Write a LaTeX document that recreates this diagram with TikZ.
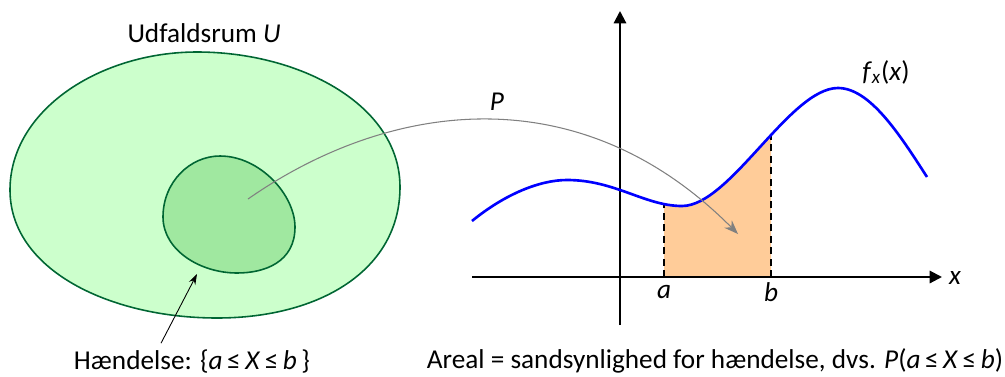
\documentclass[tikz,border=0pt]{standalone}
\usepackage{fontspec}
\setmainfont{Carlito}
\usepackage{tikz}
\usetikzlibrary{arrows.meta}
\tikzset{every picture/.append style={font=\fontsize{15.5}{18}\selectfont}}
\definecolor{blobouter}{HTML}{CCFFCC}
\definecolor{blobinner}{HTML}{A0E8A0}
\definecolor{blobline}{HTML}{006633}
\definecolor{areafill}{HTML}{FFCC99}
\newcommand{\fxcurve}{(472,221) .. controls (505,194) and (540,180) .. (567,180)
  .. controls (615,180) and (645,206) .. (682,206)
  .. controls (730,206) and (790,88) .. (838,88)
  .. controls (870,88) and (900,135) .. (927,177)}

\begin{document}
\begin{tikzpicture}[x=0.02cm,y=-0.02cm,
    axis/.style={line width=1.2pt,-{Triangle[length=7pt,width=7pt]}},
    lbl/.style={inner sep=1pt}]
    \useasboundingbox (0,0) rectangle (1005,376);
    % udfaldsrum og haendelse
    \draw[blobline,fill=blobouter,line width=0.9pt] (10,190) .. controls (10,110) and (100,52) .. (197,52)
      .. controls (300,52) and (400,105) .. (400,187)
      .. controls (400,270) and (320,318) .. (217,318)
      .. controls (110,318) and (10,270) .. (10,190) -- cycle;
    \draw[blobline,fill=blobinner,line width=0.9pt] (163,217) .. controls (163,182) and (190,156) .. (220,156)
      .. controls (260,156) and (295,195) .. (295,227)
      .. controls (295,262) and (265,273) .. (237,273)
      .. controls (200,273) and (163,250) .. (163,217) -- cycle;
    \node[lbl,anchor=base] (udfald) at (204,42) {Udfaldsrum \textit{U}};
    \node[lbl,anchor=base] (haendelse) at (192,369) {Hændelse: \{\textit{a}\,≤\,\textit{X}\,≤\,\textit{b}\,\}};
    \coordinate (inner) at (197,274);
    \draw[-{Stealth[length=6pt,width=4pt]},line width=0.5pt] (haendelse.north) ++(-31,-4) -- (inner);
    % areal under kurven
    \begin{scope}
      \clip (664,0) rectangle (771,277);
      \fill[areafill] \fxcurve -- (927,277) -- (472,277) -- cycle;
    \end{scope}
    \draw[dashed,line width=1.1pt,dash pattern=on 4pt off 2.5pt] (664,277) -- (664,205);
    \draw[dashed,line width=1.1pt,dash pattern=on 4pt off 2.5pt] (771,277) -- (771,136);
    \draw[axis] (472,277) -- (942,277);
    \draw[axis] (620,325) -- (620,11);
    \draw[blue,line width=1.5pt] \fxcurve;
    \node[lbl] (xlabel) at (955,278) {\textit{x}};
    \node[lbl] (alabel) at (664,292) {\textit{a}};
    \node[lbl] (blabel) at (771,292) {\textit{b}};
    \node[lbl] (fxlabel) at (886,72) {\textit{f}\textsubscript{\textit{x}}(\textit{x})};
    \node[lbl] (plabel) at (497,102) {\textit{P}};
    \node[lbl,anchor=base] (areal) at (715,368) {Areal = sandsynlighed for hændelse, dvs. \textit{P}(\textit{a}\,≤\,\textit{X}\,≤\,\textit{b})};
    % P-pilen
    \coordinate (pstart) at (248,199);
    \coordinate (pend) at (738,234);
    \draw[gray,line width=0.6pt,-{Stealth[length=8pt,width=6pt]}] (pstart) .. controls (390,100) and (580,75) .. (pend);
  \end{tikzpicture}
\end{document}
